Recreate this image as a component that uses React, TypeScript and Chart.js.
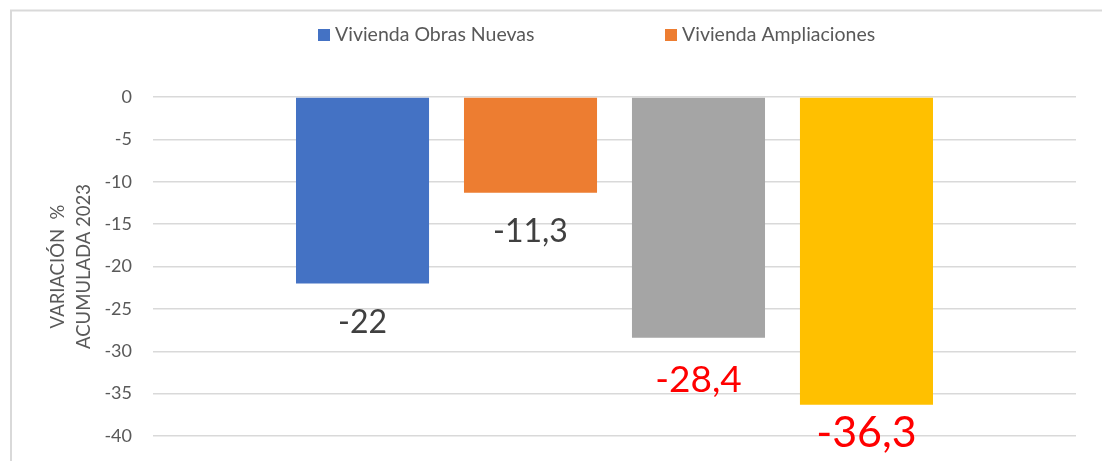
import React, { useEffect, useRef } from 'react';
import { Chart, registerables } from 'chart.js';

Chart.register(...registerables);

// ---- data ----
const categories = ['Acumulado 2023'];
const seriesLabels = ['Vivienda Obras Nuevas', 'Vivienda Ampliaciones', 'Serie 3', 'Serie 4'];
const seriesValues = [-22, -11.3, -28.4, -36.3];
const yTickValues = [0, -5, -10, -15, -20, -25, -30, -35, -40];
const yTitleLines = ['VARIACIÓN  %', 'ACUMULADA 2023'];

// ---- styles ----
const seriesColors = ['#4472C4', '#ED7D31', '#A5A5A5', '#FFC000'];
const labelColors = ['#404040', '#404040', '#FF0000', '#FF0000'];
const labelSizes = [32, 32, 37, 43];
const labelOffsets = [49.5, 49, 54, 42];
const legendSeries = [0, 1];
const legendX = [318, 665];
const FONT = 'Lato, "Open Sans", sans-serif';

const formatValue = (v: number) => String(v).replace('.', ',');

const framePlugin = {
  id: 'frame',
  beforeDraw(chart: any) {
    const ctx = chart.ctx;
    ctx.save();
    ctx.fillStyle = '#FFFFFF';
    ctx.fillRect(0, 0, chart.width, chart.height);
    ctx.strokeStyle = '#D9D9D9';
    ctx.lineWidth = 2;
    ctx.strokeRect(11, 10.5, chart.width + 50, chart.height + 50);
    ctx.restore();
  },
};

const legendPlugin = {
  id: 'customLegend',
  afterDraw(chart: any) {
    const ctx = chart.ctx;
    ctx.save();
    ctx.font = `19.5px ${FONT}`;
    ctx.textAlign = 'left';
    ctx.textBaseline = 'alphabetic';
    legendSeries.forEach((di, k) => {
      const ds = chart.data.datasets[di];
      const x = legendX[k];
      ctx.fillStyle = ds.backgroundColor;
      ctx.fillRect(x, 29, 12, 12);
      ctx.fillStyle = '#595959';
      ctx.fillText(ds.label, x + 17, 41);
    });
    ctx.restore();
  },
};

const valueLabelPlugin = {
  id: 'valueLabels',
  afterDatasetsDraw(chart: any) {
    const ctx = chart.ctx;
    ctx.save();
    ctx.textAlign = 'center';
    ctx.textBaseline = 'alphabetic';
    chart.data.datasets.forEach((ds: any, i: number) => {
      const meta = chart.getDatasetMeta(i);
      meta.data.forEach((el: any, j: number) => {
        const v = ds.data[j];
        ctx.font = `${labelSizes[i]}px ${FONT}`;
        ctx.fillStyle = labelColors[i];
        ctx.fillText(formatValue(v), el.x, el.y + labelOffsets[i]);
      });
    });
    ctx.restore();
  },
};

export default function App() {
  const canvasRef = useRef<HTMLCanvasElement>(null);

  useEffect(() => {
    if (!canvasRef.current) return;
    const chart = new Chart(canvasRef.current, {
      type: 'bar',
      data: {
        labels: categories,
        datasets: seriesLabels.map((label, i) => ({
          label,
          data: [seriesValues[i]],
          backgroundColor: seriesColors[i],
          borderWidth: 0,
          categoryPercentage: 0.728,
          barPercentage: 0.792,
        })),
      },
      options: {
        animation: false,
        responsive: true,
        maintainAspectRatio: false,
        layout: { padding: { top: 97, bottom: 25, left: 0, right: 26 } },
        plugins: {
          legend: { display: false },
          tooltip: { enabled: false },
          title: { display: false },
        },
        scales: {
          x: { display: false },
          y: {
            min: -40,
            max: 0,
            afterBuildTicks: (scale: any) => {
              scale.ticks = yTickValues.map((v) => ({ value: v }));
            },
            ticks: {
              color: '#595959',
              font: { family: FONT, size: 18 },
              padding: 21,
              callback: (v: any) => String(v),
            },
            grid: { color: '#D9D9D9', lineWidth: 1.5, drawTicks: false },
            border: { display: false },
            title: {
              display: true,
              text: yTitleLines,
              color: '#595959',
              font: { family: FONT, size: 18.5, lineHeight: '26px' },
              padding: { top: 45.5, bottom: 0 },
            },
            afterFit: (scale: any) => {
              scale.width = 153;
              scale.paddingTop = 0;
              scale.paddingBottom = 0;
            },
          },
        },
      },
      plugins: [framePlugin, legendPlugin, valueLabelPlugin],
    });
    return () => chart.destroy();
  }, []);

  return (
    <div style={{ position: 'fixed', left: 0, top: 0, width: 1102, height: 461, background: '#fff' }}>
      <canvas ref={canvasRef} />
    </div>
  );
}
